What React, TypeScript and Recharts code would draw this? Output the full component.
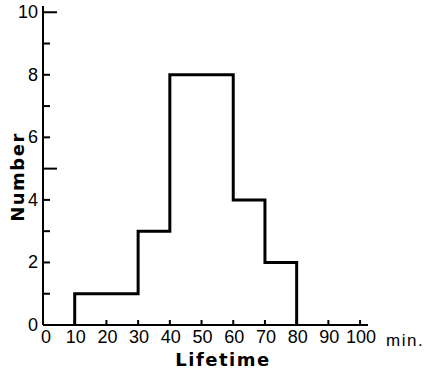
import { LineChart, Line, XAxis, YAxis } from "recharts";

// histogram bin edges (min) and counts per bin
const binEdges = [10, 30, 40, 60, 70, 80];
const binCounts = [1, 3, 8, 4, 2];
const xTicks = [0, 10, 20, 30, 40, 50, 60, 70, 80, 90, 100];
const yTicks = [0, 1, 2, 3, 4, 5, 6, 7, 8, 9, 10];
const yLabelled = [0, 2, 4, 6, 8, 10];
const yLongTicks = [5, 10];

// step outline: start on the axis, one point per bin, close back to zero
const buildSteps = () => {
  const pts = [{ t: binEdges[0], n: 0 }];
  binCounts.forEach((c, i) => pts.push({ t: binEdges[i], n: c }));
  pts.push({ t: binEdges[binEdges.length - 1], n: 0 });
  return pts;
};

const tickFont = { fontFamily: "Liberation Sans", fontSize: 18, fill: "#000" };
const labelFont = { fontFamily: "DejaVu Sans", fontSize: 18, fontWeight: 700, fill: "#000" };

const YTick = (props: any) => {
  const { x, y, payload } = props;
  const v = payload.value;
  const len = yLongTicks.includes(v) ? 14 : 7;
  return (
    <g>
      {v > 0 && <line x1={x} y1={y} x2={x + len} y2={y} stroke="#000" strokeWidth={2} />}
      {yLabelled.includes(v) && (
        <text x={x - 5} y={y + 6} textAnchor="end" style={tickFont}>
          {v}
        </text>
      )}
    </g>
  );
};

const XTick = (props: any) => {
  const { x, y, payload } = props;
  const v = payload.value;
  return (
    <g>
      {v > 0 && <line x1={x} y1={y} x2={x} y2={y - 5} stroke="#000" strokeWidth={2} />}
      <text x={v === 0 ? x + 3 : x + 1} y={y + 18} textAnchor="middle" style={tickFont}>
        {v}
      </text>
    </g>
  );
};

export default function App() {
  const data = buildSteps();
  return (
    <div style={{ position: "absolute", left: 0, top: 0, width: 424, height: 372, background: "#fff" }}>
      <LineChart width={424} height={372} data={data} margin={{ top: 6, right: 56, bottom: 0, left: 0 }}>
        <XAxis
          dataKey="t"
          type="number"
          domain={[0, 102.5]}
          ticks={xTicks}
          interval={0}
          height={47}
          tickSize={0}
          tickMargin={0}
          tickLine={false}
          axisLine={{ stroke: "#000", strokeWidth: 2 }}
          tick={<XTick />}
        />
        <YAxis
          type="number"
          domain={[0, 10.2]}
          ticks={yTicks}
          interval={0}
          width={43}
          tickSize={0}
          tickMargin={0}
          tickLine={false}
          axisLine={{ stroke: "#000", strokeWidth: 2 }}
          tick={<YTick />}
        />
        <Line
          type="stepAfter"
          dataKey="n"
          stroke="#000"
          strokeWidth={3}
          dot={false}
          activeDot={false}
          isAnimationActive={false}
        />
        <text x={386} y={346} style={{ ...tickFont, fontSize: 17, letterSpacing: 1.5 }}>
          min.
        </text>
        <text x={223} y={366} textAnchor="middle" style={{ ...labelFont, letterSpacing: 1.5 }}>
          Lifetime
        </text>
        <text
          x={17}
          y={177}
          textAnchor="middle"
          dominantBaseline="central"
          transform="rotate(-90 17 177)"
          style={{ ...labelFont, letterSpacing: 1.5 }}
        >
          Number
        </text>
      </LineChart>
    </div>
  );
}
